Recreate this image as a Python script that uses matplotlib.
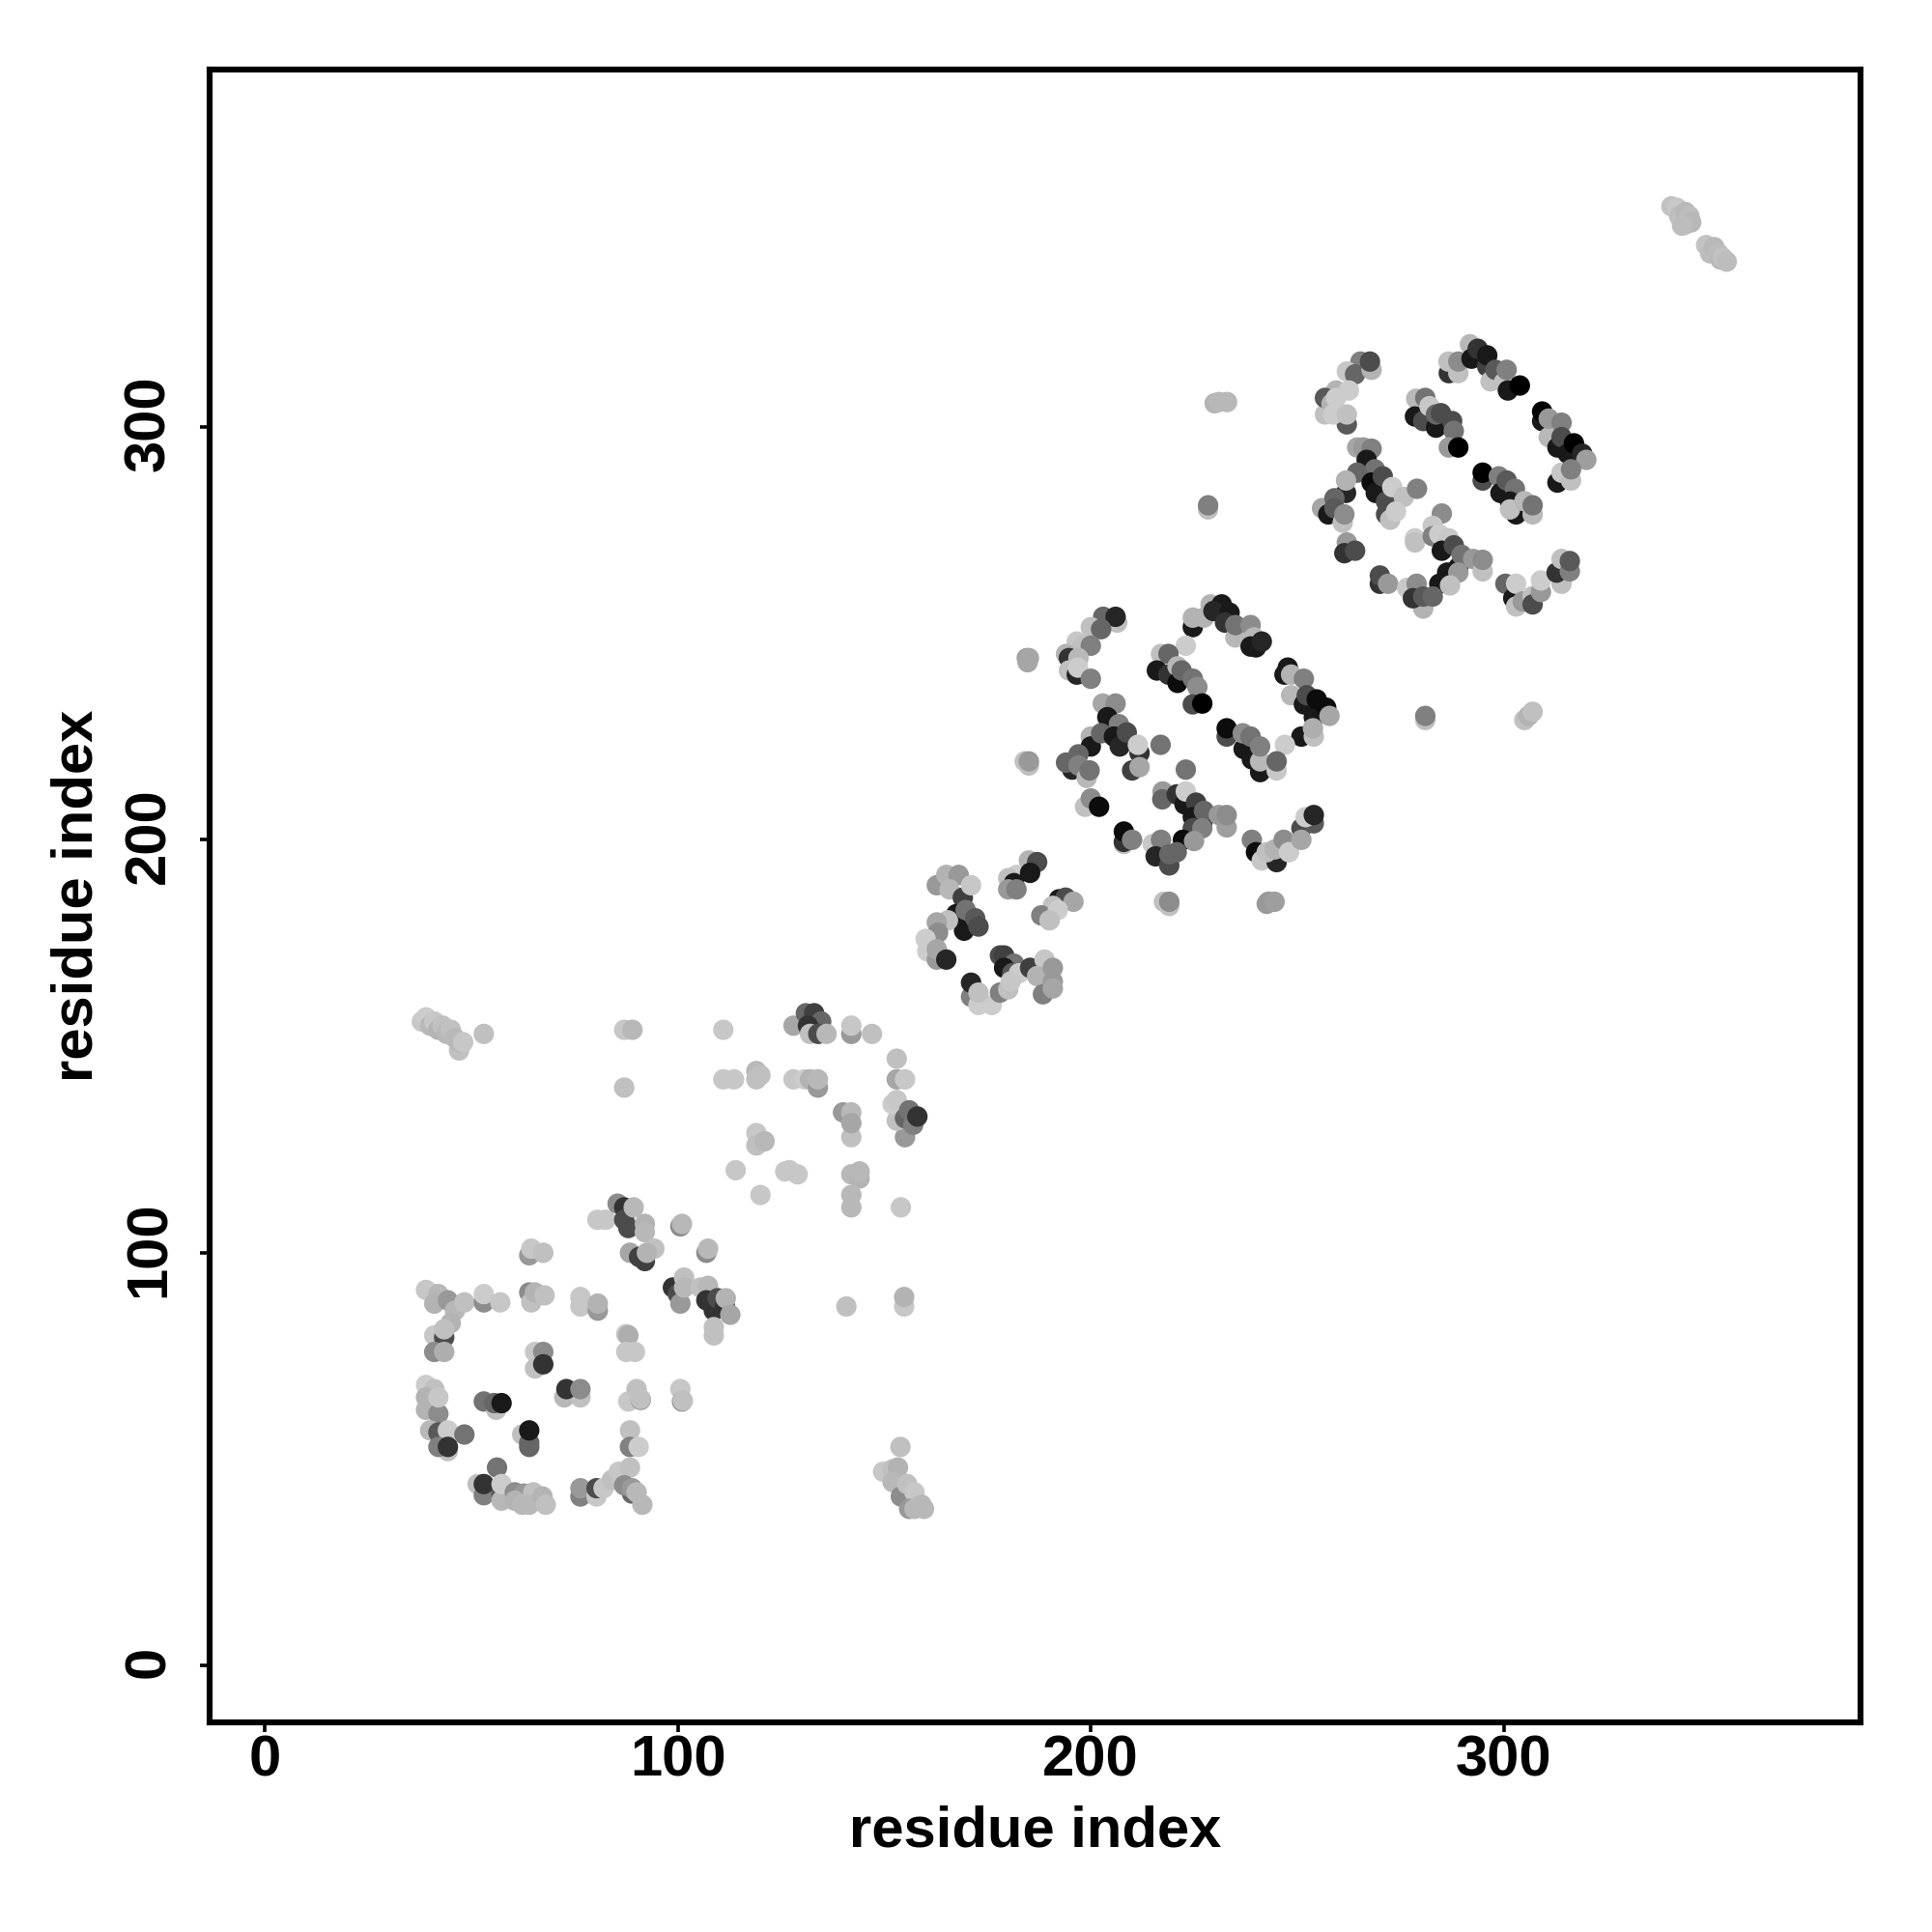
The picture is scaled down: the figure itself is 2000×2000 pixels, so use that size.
import matplotlib
matplotlib.use("Agg")
import matplotlib.pyplot as plt
from matplotlib.transforms import ScaledTranslation

plt.rcParams['font.family'] = ['Liberation Sans', 'DejaVu Sans']

tick_values = [0, 100, 200, 300]
axis_label = "residue index"

# contacts: (residue i, residue j, grey level)
domain_a = [
(80.5,108,.78),(82.5,108,.78),(85.4,111.9,.55),(87,111,.2),(87,108,.3),(89.3,111,.72),(88,106,.3),(92,107,.7),(92,105,.72),
(88.4,100,.65),(90.6,99,.25),(92,98,.25),(94.3,101,.75),(92.5,100,.7),(100.6,106.4,.55),(101,107,.72),(106.9,100,.55),(107.3,101,.72),
(98.8,91.6,.2),(100,90,.3),(100.6,87.7,.6),(101.5,94,.75),(101.5,91.6,.72),(105.5,91.6,.75),(107.3,92,.72),
(106.9,88.5,.2),(108.7,86,.2),(109.6,89,.3),(111.4,87,.2),(111.6,89,.7),(112.7,85,.65),(108.7,82,.75),(108.7,80,.75),
(39,91,.78),(41,90,.78),(42,90,.72),(41,87.7,.7),(44.3,88.5,.6),(46,86,.72),(48.3,88,.75),(45,83,.7),
(41,80,.78),(43.4,79.5,.3),(43.4,81.5,.75),(41,76,.55),(43.4,76,.68),(53,88,.55),(53,90,.8),(57,88,.78),
(64,99.4,.6),(64.5,101,.78),(67.4,100,.75),(64,90.4,.55),(64.5,88,.75),(65.4,90.4,.7),(67.7,89.7,.75),
(76.4,89.3,.78),(76.4,87,.78),(80.6,86,.6),(80.6,87.7,.7),(87.5,80.3,.78),(88,80,.68),(87.5,76,.78),(89.6,76,.78),
(65.4,76,.78),(67.4,76,.55),(65.4,72,.75),(67.4,73,.2),(39,68,.8),(41,67,.75),(39,65,.7),(39,62,.7),(42,61,.55),(42,65,.78),
(40,57,.72),(42,56.5,.35),(44.3,57,.8),(48.3,56,.45),(44.3,52,.75),(42,53,.5),(44.3,53,.2),
(53,64,.45),(56,62,.75),(55.5,63.6,.4),(57.3,63.6,.1),(62.3,56,.75),(64,53,.4),(64,54,.4),(64,57,.1),
(72.5,65,.72),(76.4,65,.75),(73,67,.2),(76.4,67,.55),(88,64,.78),(91,64.4,.5),(90,67,.75),(91,64.6,.75),
(100.6,67,.78),(101,64,.55),(101.2,64.2,.75),(88.4,57,.75),(88.4,53,.5),(90.5,53,.8),
(56.2,48,.45),(51.5,44,.75),(53,41.3,.5),(53,44,.2),(57.3,41.7,.35),(57.3,40,.72),(57.3,44,.8),
(60.5,42,.55),(62.7,41.7,.6),(60.5,40,.7),(62.3,39,.72),(65,42,.75),(64,39,.72),(67.2,41,.7),(68,39,.75),
(76.4,41,.5),(76.4,43,.6),(80.3,41,.78),(80.3,43,.3),(82,43,.78),(84,45,.75),(85.7,47,.78),(88.4,48,.75),
(88.9,41.7,.4),(87,43.7,.55),(88.9,43,.6),(90,42,.72),(91.4,39,.72),
]
domain_a_cross = [
(153.9,53,.75),(149.7,47,.78),(152,47.6,.75),(153.3,48,.7),(152,44.5,.72),(154,41,.55),(155.5,44,.75),(157.3,42,.78),
(156,38,.6),(157.3,38,.72),(159,39,.72),(159.6,38,.72),(140.8,87,.75),(154.8,87,.78),(154.8,89.3,.7),
(38,156,.78),(39,157,.8),(40,155,.72),(41,156,.78),(42,154,.7),(43,155,.75),(44,153,.72),(45,154,.75),
(46,152,.72),(47,149,.75),(47,151,.72),(48,151,.78),(53,153,.75),
]
domain_b = [
(111,154,.78),(87,154,.78),(89,154,.72),(87,140,.75),(111,142,.78),(113.6,142,.78),(119,144,.72),(119,142,.75),(120,143,.75),
(128,155,.65),(128,142,.78),(130.7,142,.8),(132,142,.7),(133.9,140,.6),(133.9,142,.72),
(131,158,.4),(133,158,.25),(134.7,156,.4),(131.5,155,.2),(132,153,.75),(134,153,.3),(136,153,.72),
(142,153,.6),(142,155,.78),(147,153,.75),(153,147,.75),(153,142,.65),(155,142,.78),
(140,134,.6),(142,134,.72),(142,128,.75),(142,131.4,.65),
(155,128,.6),(153,132,.75),(152,136,.8),(153,137,.78),(155,132.6,.4),(157,131,.5),(156,134.5,.45),(158,133,.2),
(119,129,.78),(119,126,.75),(121,127,.72),(114,120,.78),(120,114,.78),(126,119.7,.78),(127,120,.78),(129,119,.78),
(142,119,.72),(144,118,.7),(144,119.7,.72),(142,111,.72),(142,114,.72),(154,111,.78),
]
domain_c = [
(162.7,189,.6),(165,191.5,.7),(168,191.5,.6),(165.8,188,.72),(169,186,.25),(171,189,.78),
(167.4,182,.1),(169.3,178,.1),(165.4,180.5,.75),(169.7,183,.45),(172,181,.35),(172.8,179,.3),
(162.7,180,.65),(163,177.5,.55),(160,176,.8),(160.4,173,.8),(162.7,171,.6),(162.7,173.5,.65),(165,171,.15),
(185,195,.7),(182,191.5,.8),(187,194.6,.3),(185.3,192,.1),(180,190.7,.75),(181.4,189.5,.1),(180,188,.6),(182,188,.5),
(192.3,185.6,.1),(193.9,186,.3),(190,180.8,.05),(195.8,185,.65),(190.8,184,.75),(188,181.7,.5),(192,183,.8),(190,180.5,.75),
(171,162,.5),(171,165.4,.15),(172.8,160,.8),(176,160,.8),(172.8,163,.75),(178,163,.5),(180,163.8,.75),
(178,172,.3),(179,172,.25),(181.4,170,.45),(179,169,.1),(181,167.7,.35),(182.6,167.7,.8),(180.6,165.7,.78),
(185.3,169,.25),(188.8,171,.78),(187,167,.7),(188.4,162.6,.5),(190.8,169,.6),(190.8,165.7,.6),(190.8,164,.65),
]
domain_d = [
(184.5,244,.62),(184.7,243,.65),(185,244,.65),(184,219,.75),(185,218,.75),(185,219,.6),(217.7,185,.75),(219,184,.75),(219,185,.55),
(242.6,184.5,.6),(243,185,.6),(244.5,185,.62),
(203,254,.4),(206.4,252.6,.75),(206,254,.15),(200,251.5,.75),(202.5,251,.4),(196.6,248,.78),(198,247,.75),(200,247,.5),
(194,245,.7),(194.7,244,.2),(197,244,.72),(194.7,241,.75),(196.6,240,.15),(196.9,241.7,.8),(200,239,.5),
(202.9,233,.65),(206,233,.55),(204,229.7,.1),(206.8,228,.5),(200,225,.7),(200,222.6,.1),(202.5,225.8,.4),(205.6,225,.1),
(207,222.6,.15),(208.7,226,.3),(211.8,221,.2),(211.4,223,.8),(210,216.8,.25),(211.8,217.6,.65),(216.9,223,.45),
(195.5,217,.15),(194,218.7,.4),(197,220.7,.4),(197,218,.5),(199,215,.72),(199.7,216.8,.45),
(198.6,208,.75),(200,210,.55),(202,208,.05),(208,199,.75),(208,199.5,.2),(208,202,.05),(210,200,.5),(223,217,.45),
(217.4,211.7,.6),(217.3,209.8,.4),(220.8,211,.2),(222.7,208.6,.1),(223,211.7,.8),(225.5,209,.25),(224.7,205.5,.1),(227,204,.15),(227.4,207,.4),
(231,206,.6),(232.9,203,.62),(232.9,206,.55),(224.7,202.8,.3),(227,202.8,.5),(222.3,200,.05),(225,199.7,.6),
(215,199,.78),(217,200,.5),(215.7,196,.15),(219,193.8,.3),(219,196.5,.4),(220.8,197,.4),
(239,200,.5),(240,197,.05),(241.4,195,.78),(245,194.6,.15),(242.6,197,.75),(244.6,197.7,.7),(246.7,200,.55),(248,197,.8),
(251,202.8,.3),(251,200,.65),(254,204,.35),(252,205.5,.8),(254,206,.15),
(229,257,.7),(231.7,257,.1),(224.7,251.5,.1),(224.7,253.8,.7),(227.4,253.8,.7),(229.7,255.4,.15),(233.6,255,.1),(232.5,252.6,.2),
(235,249,.72),(235,252,.45),(238.7,252,.55),(239.5,249,.72),(238.7,246.8,.1),(240,246.6,.1),(241.4,248,.15),(223,247,.8),
(217,245,.75),(218.8,245,.4),(216,241,.1),(218.8,240,.2),(221,242,.72),(221,238,.05),(222,241,.4),(224.7,239,.45),(225.8,237,.55),(224.7,232.8,.3),(227,233,.0),
(246.9,240,.1),(247.7,241.7,.1),(248.5,240,.7),(248.5,235,.72),(251.6,232.8,.1),(251.6,239,.5),(252.3,235,.3),(254,229.7,.1),(254.7,234,.05),(257,232,.05),(257.8,230,.65),
(251,225,.1),(254,225,.75),(253.8,227,.68),(247,223,.8),
(232.9,225,.3),(232.9,227,.05),(237,222,.1),(236.8,225.8,.55),(238.7,225,.45),(239,219.5,.1),(241,216.4,.1),(241,219,.72),(241,222.6,.5),(245,216.8,.78),(245,219,.4),
]
domain_e = [
(230,305.7,.7),(231,306,.72),(233,306,.72),(228.4,280,.75),(228.4,281,.5),(281,229,.75),(281,230,.5),(305,229,.75),(306,230,.7),(307,231,.75),
(265.3,315.8,.5),(262,313.4,.78),(264,312.7,.4),(268,313.8,.7),(267.6,315.8,.3),(259.4,308.8,.7),(262.5,308.8,.8),(256.7,303,.75),(256.7,307,.35),(258.3,305.6,.7),(262,300.6,.35),(258.7,303,.8),(262,303,.75),(259.4,307,.8),
(278.8,306.8,.72),(281,307,.45),(278.5,302.5,.1),(280.5,301.4,.3),(282,305,.78),(283.6,299.8,.1),(283.6,303,.4),(284.8,303.3,.3),(287.5,301.4,.3),(287.9,299,.45),(286.7,295,.6),(289,295,.0),
(286.7,313,.2),(286.6,315.8,.75),(289,313,.75),(289,315.8,.55),(291.8,320,.72),(292.2,316.5,.1),(293.7,318.9,.2),(296,314.6,.25),(296,317.3,.1),(296.8,311,.75),(298,313.8,.35),(300,310.7,.75),(300.7,313.8,.5),(301,308.8,.1),(303.9,310,.0),
(309.3,301.4,.1),(309.3,303.7,.0),(310.9,297.5,.72),(310.9,302,.6),(314,301,.5),(313,295,.1),(314,297.5,.3),(315.5,293.5,.1),(317,296,.0),(319,293.5,.15),(320,292,.62),
(313,286.5,.1),(314,288.9,.78),(316.3,287,.75),(316.3,289.7,.5),
(294.9,287,.3),(294.9,288.9,.0),(298.8,288,.5),(299.2,284,.1),(300.7,287,.35),(302.7,285,.45),(301.5,281.9,.1),(303,278.8,.1),(301.5,280,.75),(305,282,.72),(307,278.8,.72),(307,281,.45),
(264.5,295,.65),(266,295,.6),(268,294.7,.5),(266.8,292,.1),(268.8,289.7,.45),(264.5,288.9,.4),(261.8,284,.15),(261.8,287,.7),(268,286.5,.05),(269,284,.1),(270.7,288,.3),(271.5,281.9,.3),(273,285.4,.8),(275.8,283,.75),(279,285,.5),
(256,280.3,.65),(257.5,278.8,.1),(259,282.7,.4),(259,280.3,.35),(261,276.8,.75),(261.4,278.8,.55),(271.5,278.8,.3),(272.5,277.5,.75),(273.9,279.5,.8),
(262,272,.6),(261.4,269.4,.2),(264,270,.3),(270,262,.2),(270,264,.3),(272,262,.6),
(285,279,.55),(278.5,273,.8),(278.5,272,.75),(282.8,276,.78),(282.8,273.5,.5),(284.4,274,.8),(286.7,273,.78),(285,270,.1),(287.9,271.3,.3),(289,266,.1),(289.8,269,.45),(292.6,268,.6),(294.9,265,.75),(294.9,267.8,.55),
(286.3,264.7,.1),(289,264.7,.6),(284.4,262,.1),(287,261.6,.75),
(276.6,261,.78),(278.9,262,.55),(280.5,256,.7),(278,258.5,.2),(280.5,258.9,.35),(282.8,258.9,.4),
(300.4,262,.4),(302.3,258.5,.1),(303,256.5,.75),(303,262,.8),(304.6,257.7,.6),(307,259,.75),(307,257,.3),(309,260,.6),(309,262.8,.8),(314,262,.75),(312.8,264.7,.2),(314,268,.75),(316,265,.5),(316,267.5,.35),
(340.6,353.4,.76),(342,353,.78),(342.5,351,.74),(343,350,.76),(344,352,.72),(345,351,.74),(344,349,.75),(345.4,349.5,.72),(343.2,348.7,.74),
(349,344,.76),(350,342,.74),(351,343.5,.72),(352,342,.74),(352.5,340.5,.72),(353,341,.76),(354,340,.74),
]

fig = plt.figure(figsize=(10, 10), dpi=200)
ax = fig.add_axes([0.1085, 0.1085, 0.8545, 0.8557])

for group in (domain_a, domain_a_cross, domain_b, domain_c, domain_d, domain_e):
    xs = [p[0] for p in group]
    ys = [p[1] for p in group]
    gs = [p[2] for p in group]
    ax.scatter(xs, ys, c=gs, cmap='gray', vmin=0, vmax=1, s=58, linewidths=0, zorder=3)

ax.set_xlim(-13.4, 386.4)
ax.set_ylim(-13.7, 386.6)
ax.set_xticks(tick_values)
ax.set_yticks(tick_values)
ax.tick_params(axis='x', length=3.6, width=1.3, labelsize=21.5, pad=1.0)
ax.tick_params(axis='y', length=3.6, width=1.3, labelsize=21.5, pad=8.8)
for lab in ax.get_xticklabels() + ax.get_yticklabels():
    lab.set_fontweight('bold')
shift = ScaledTranslation(0, 4 / 200, fig.dpi_scale_trans)
for tick in ax.yaxis.get_major_ticks():
    tick.label1.set_rotation(90)
    tick.label1.set_va('center')
    tick.label1.set_transform(tick.label1.get_transform() + shift)
for s in ax.spines.values():
    s.set_linewidth(2.2)
ax.set_xlabel(axis_label, fontsize=21.5, fontweight='bold', labelpad=6.2)
ax.set_ylabel(axis_label, fontsize=21.5, fontweight='bold', labelpad=7.2)
fig.savefig('out.png', dpi=200, facecolor='white')
